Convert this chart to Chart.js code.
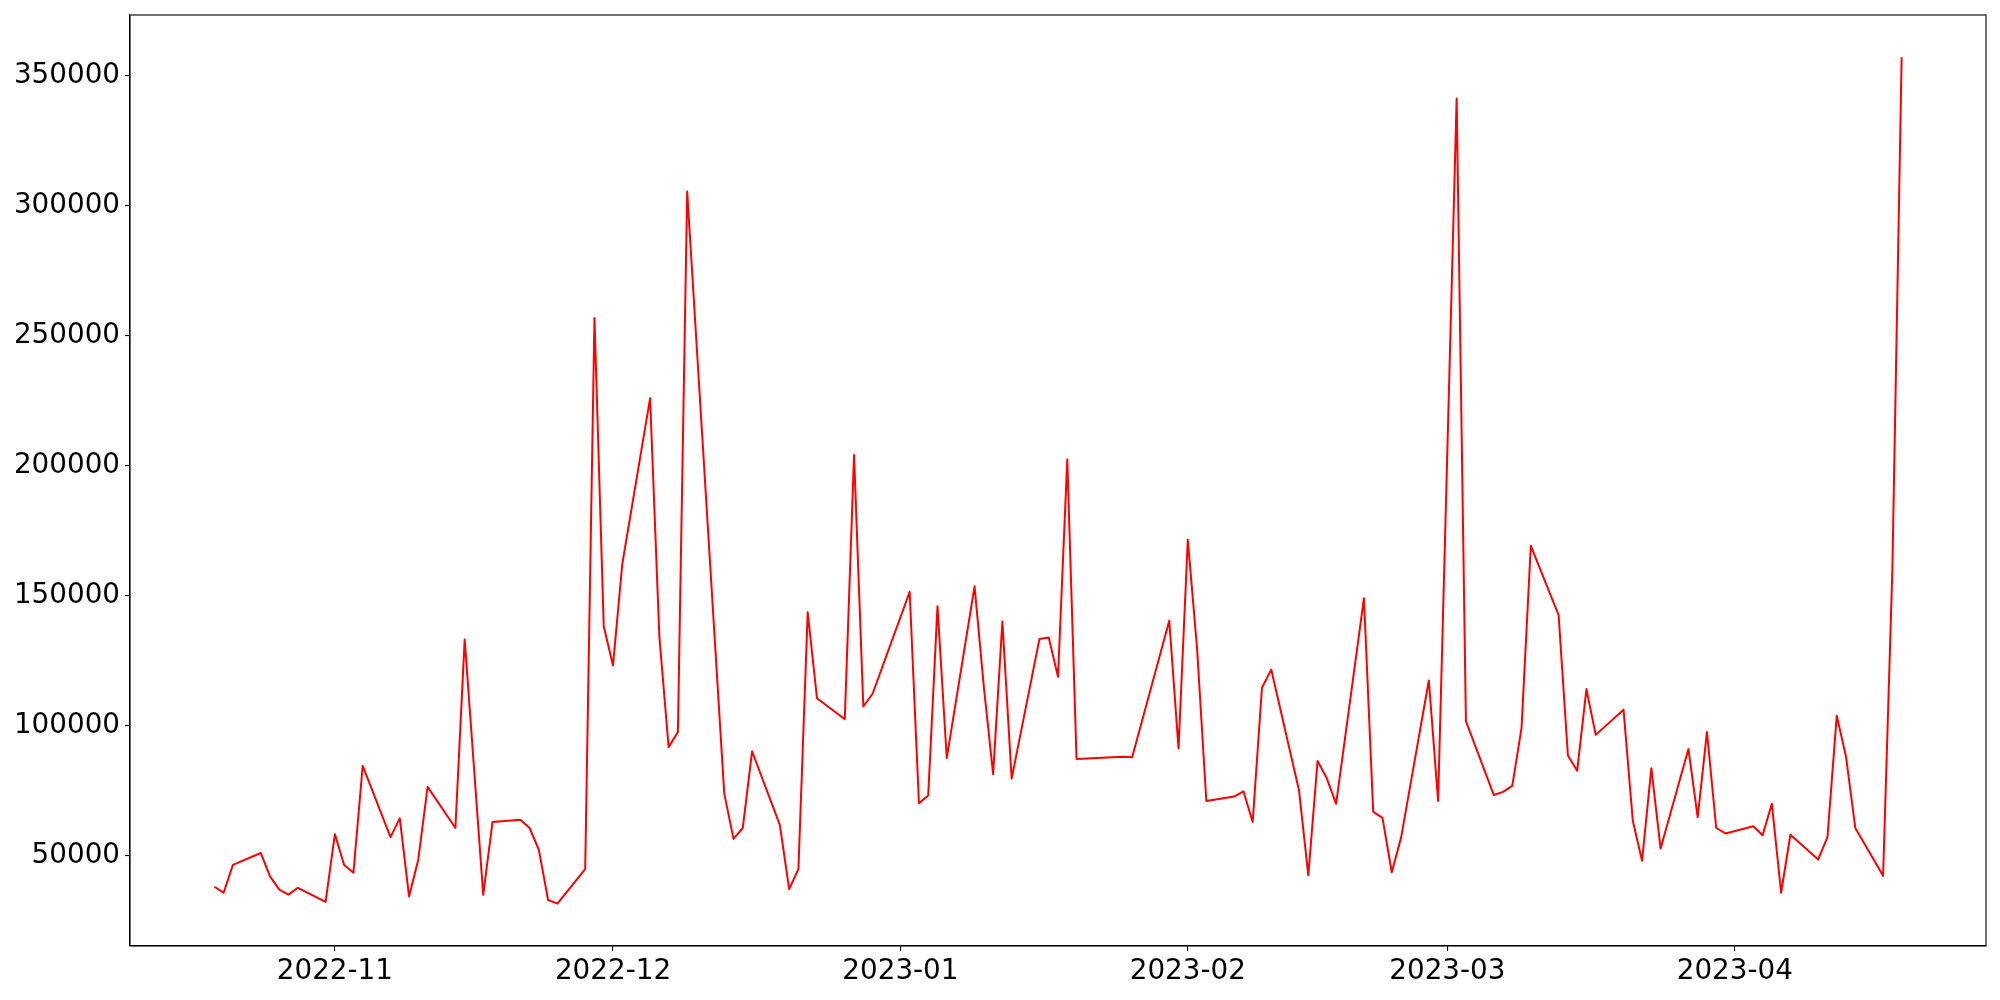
<!DOCTYPE html>
<html>
<head>
<meta charset="utf-8">
<script src="https://cdn.jsdelivr.net/npm/chart.js@4/dist/chart.umd.min.js"></script>
<style>
  html, body { margin: 0; padding: 0; background: #ffffff; }
  #wrap { width: 2000px; height: 1000px; }
</style>
</head>
<body>
<div id="wrap"><canvas id="c" width="2000" height="1000"></canvas></div>
<script>
const dates = [
  '2022-10-19','2022-10-20','2022-10-21','2022-10-24','2022-10-25','2022-10-26','2022-10-27','2022-10-28','2022-10-31',
  '2022-11-01','2022-11-02','2022-11-03','2022-11-04','2022-11-07','2022-11-08','2022-11-09','2022-11-10','2022-11-11',
  '2022-11-14','2022-11-15','2022-11-17','2022-11-18','2022-11-21','2022-11-22','2022-11-23','2022-11-24','2022-11-25',
  '2022-11-28','2022-11-29','2022-11-30','2022-12-01','2022-12-02','2022-12-05','2022-12-06','2022-12-07','2022-12-08',
  '2022-12-09','2022-12-13','2022-12-14','2022-12-15','2022-12-16','2022-12-19','2022-12-20','2022-12-21','2022-12-22',
  '2022-12-23','2022-12-26','2022-12-27','2022-12-28','2022-12-29','2023-01-02','2023-01-03','2023-01-04','2023-01-05',
  '2023-01-06','2023-01-09','2023-01-10','2023-01-11','2023-01-12','2023-01-13','2023-01-16','2023-01-17','2023-01-18',
  '2023-01-19','2023-01-20','2023-01-25','2023-01-26','2023-01-30','2023-01-31','2023-02-01','2023-02-02','2023-02-03',
  '2023-02-06','2023-02-07','2023-02-08','2023-02-09','2023-02-10','2023-02-13','2023-02-14','2023-02-15','2023-02-16',
  '2023-02-17','2023-02-20','2023-02-21','2023-02-22','2023-02-23','2023-02-24','2023-02-27','2023-02-28','2023-03-02',
  '2023-03-03','2023-03-06','2023-03-07','2023-03-08','2023-03-09','2023-03-10','2023-03-13','2023-03-14','2023-03-15',
  '2023-03-16','2023-03-17','2023-03-20','2023-03-21','2023-03-22','2023-03-23','2023-03-24','2023-03-27','2023-03-28',
  '2023-03-29','2023-03-30','2023-03-31','2023-04-03','2023-04-04','2023-04-05','2023-04-06','2023-04-07','2023-04-10',
  '2023-04-11','2023-04-12','2023-04-13','2023-04-14','2023-04-17','2023-04-18','2023-04-19'
];

const values = [
  38100, 35800, 46500, 51100, 42100, 37000, 35100, 37700, 32300,
  58300, 46500, 43500, 84600, 57200, 64400, 34400, 48600, 76500,
  60700, 133200, 35000, 63000, 63900, 60700, 52300, 33000, 31600,
  44900, 256800, 138300, 123200, 162200, 225900, 134300, 91800, 97600,
  305400, 73900, 56500, 60700, 90200, 61800, 37200, 44900, 143600,
  110600, 102500, 204100, 107400, 112300, 151500, 70200, 73200, 146000,
  87600, 153600, 115000, 81400, 140100, 79700, 133400, 133900, 118800,
  202400, 87200, 88100, 87900, 140400, 91300, 171500, 129700, 71100,
  72800, 74800, 63000, 114600, 121600, 75100, 42500, 86500, 79700,
  70000, 149000, 66900, 64600, 43700, 56900, 117400, 71100, 341200,
  101800, 73400, 74600, 76900, 99200, 169200, 142500, 88600, 82700,
  114100, 96500, 106200, 63500, 48100, 83700, 52800, 91100, 64800,
  97600, 60700, 58600, 61400, 57900, 70000, 35800, 58100, 48600,
  57200, 103900, 88100, 60700, 42300, 160000, 357000
];

const yTicks = [50000, 100000, 150000, 200000, 250000, 300000, 350000];
const xTickLabels = ['2022-11', '2022-12', '2023-01', '2023-02', '2023-03', '2023-04'];

function toDay(s) {
  const p = s.split('-').map(Number);
  return Date.UTC(p[0], p[1] - 1, p[2] || 1) / 86400000;
}

const xTickValues = xTickLabels.map(s => toDay(s + '-01'));
const points = dates.map((d, i) => ({ x: toDay(d), y: values[i] }));

const xs = points.map(p => p.x);
const xMinD = Math.min(...xs), xMaxD = Math.max(...xs);
const yMinD = Math.min(...values), yMaxD = Math.max(...values);
const xPad = (xMaxD - xMinD) * 0.05;
const yPad = (yMaxD - yMinD) * 0.05;

const FONT = { family: 'DejaVu Sans', size: 27.8 };

const frame = {
  id: 'frame',
  afterDraw(chart) {
    const a = chart.chartArea;
    const ctx = chart.ctx;
    ctx.save();
    ctx.strokeStyle = '#000000';
    ctx.lineWidth = 1.1;
    ctx.strokeRect(a.left, a.top, a.right - a.left, a.bottom - a.top);
    ctx.restore();
  }
};

new Chart(document.getElementById('c'), {
  type: 'line',
  data: {
    datasets: [{
      data: points,
      borderColor: '#ff0000',
      borderWidth: 2,
      borderJoinStyle: 'round',
      borderCapStyle: 'butt',
      pointRadius: 0,
      tension: 0,
      fill: false
    }]
  },
  options: {
    responsive: false,
    devicePixelRatio: 1,
    animation: false,
    layout: { padding: { top: 15, right: 14, left: 0, bottom: 0 } },
    plugins: { legend: { display: false }, tooltip: { enabled: false } },
    scales: {
      x: {
        type: 'linear',
        min: xMinD - xPad,
        max: xMaxD + xPad,
        afterBuildTicks: (scale) => { scale.ticks = xTickValues.map(v => ({ value: v })); },
        afterFit: (scale) => { scale.height = 54; scale.paddingLeft = 0; scale.paddingRight = 0; },
        ticks: {
          autoSkip: false,
          maxRotation: 0,
          minRotation: 0,
          padding: 4,
          color: '#000000',
          font: FONT,
          callback: (value, index) => xTickLabels[index]
        },
        grid: { drawOnChartArea: false, drawTicks: true, tickLength: 5, color: '#000000', lineWidth: 1.1 },
        border: { display: true, color: '#000000', width: 1.1 }
      },
      y: {
        type: 'linear',
        min: yMinD - yPad,
        max: yMaxD + yPad,
        afterBuildTicks: (scale) => { scale.ticks = yTicks.map(v => ({ value: v })); },
        afterFit: (scale) => { scale.width = 130; scale.paddingTop = 0; scale.paddingBottom = 0; },
        ticks: {
          autoSkip: false,
          padding: 5,
          color: '#000000',
          font: FONT,
          callback: (value) => String(value)
        },
        grid: { drawOnChartArea: false, drawTicks: true, tickLength: 5, color: '#000000', lineWidth: 1.1 },
        border: { display: true, color: '#000000', width: 1.1 }
      }
    }
  },
  plugins: [frame]
});
</script>
</body>
</html>
